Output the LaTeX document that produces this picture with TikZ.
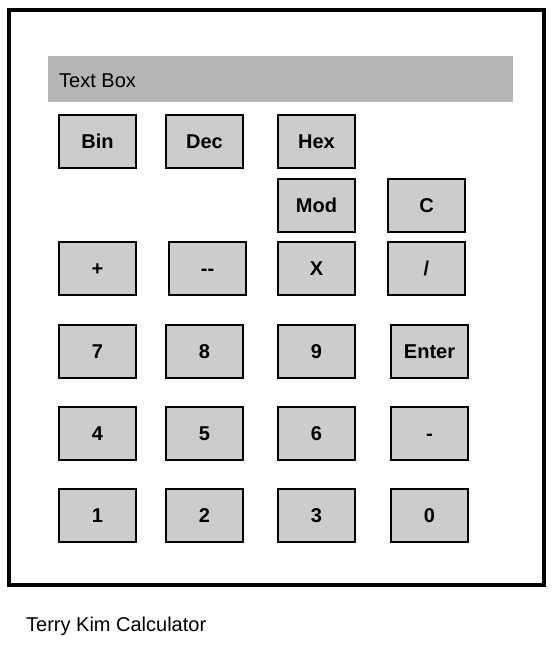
\documentclass[tikz,border=0pt]{standalone}
\usepackage{fontspec}
\setmainfont{Liberation Sans}
\usepackage{tikz}
\definecolor{keygray}{HTML}{CCCCCC}
\definecolor{boxgray}{HTML}{B5B5B5}
\tikzset{
    key/.style={rectangle, draw=black, line width=2pt, fill=keygray,
        minimum width=77pt, minimum height=53pt, inner sep=0pt,
        text height=14.3pt, text depth=0pt,
        font=\fontsize{20}{24}\selectfont\bfseries}
}
\tikzset{caption/.style={anchor=base west, inner sep=0pt, font=\fontsize{20}{24}\selectfont}}
\begin{document}
\begin{tikzpicture}[x=1pt, y=-1pt]
        \useasboundingbox (0,0) rectangle (557,649);
        \draw [line width=4pt, fill=white] (9,10) rectangle (543.5,585);
        \node (display) [rectangle, fill=boxgray, minimum width=465pt, minimum height=46pt, inner sep=0pt] at (280.5,79) {};
        \node (displaytext) [caption] at (59,87) {Text Box};
        \node (bin) [key] at (97.5,141) {Bin};
        \node (dec) [key] at (204.5,141) {Dec};
        \node (hex) [key] at (316.5,141) {Hex};
        \node (mod) [key] at (316.5,205) {Mod};
        \node (clr) [key] at (426.5,205) {C};
        \node (plus) [key] at (97.5,268) {+};
        \node (minus) [key] at (207.5,268) {{-}{-}};
        \node (times) [key] at (316.5,268) {X};
        \node (divide) [key] at (426.5,268) {/};
        \node (k7) [key] at (97.5,351) {7};
        \node (k8) [key] at (204.5,351) {8};
        \node (k9) [key] at (316.5,351) {9};
        \node (enter) [key] at (429.5,351) {Enter};
        \node (k4) [key] at (97.5,433) {4};
        \node (k5) [key] at (204.5,433) {5};
        \node (k6) [key] at (316.5,433) {6};
        \node (neg) [key] at (429.5,433) {-};
        \node (k1) [key] at (97.5,515) {1};
        \node (k2) [key] at (204.5,515) {2};
        \node (k3) [key] at (316.5,515) {3};
        \node (k0) [key] at (429.5,515) {0};
        \node (title) [caption] at (26,631) {Terry Kim Calculator};
\end{tikzpicture}
\end{document}
